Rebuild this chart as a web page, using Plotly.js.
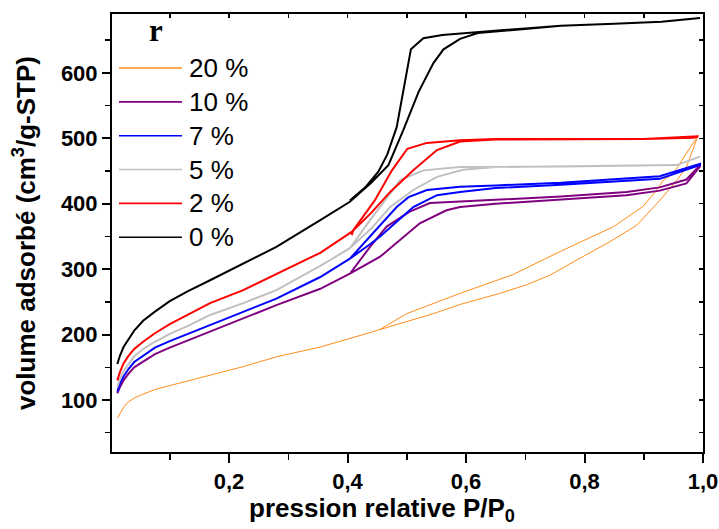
<!DOCTYPE html>
<html><head><meta charset="utf-8">
<script src="https://cdn.plot.ly/plotly-3.0.1.min.js"></script>
<style>html,body{margin:0;padding:0;background:#fff}#chart{width:719px;height:529px}</style>
</head><body><div id="chart"></div>
<script>
// Legend / series meta
const seriesNames = ['20 %', '10 %', '7 %', '5 %', '2 %', '0 %'];
const seriesColors = ['#ff8c1a', '#800080', '#0000ff', '#c0c0c0', '#ff0000', '#000000'];
const legendTitle = 'r';

// 20 % (adsorption then desorption)
const p20Ads = [0.0115,0.016,0.022,0.03,0.04,0.055,0.075,0.1,0.13,0.168,0.224,0.28,0.354,0.404,0.455,0.545,0.59,0.657,0.702,0.742,0.787,0.843,0.888,0.927,0.956,0.972,0.992];
const v20Ads = [72,80,89,97,103,109,116,122,129,138,151,166,181,194,208,232,246,263,276,291,314,342,367,405,436,456,505];
const p20Des = [0.992,0.95,0.933,0.922,0.899,0.849,0.759,0.68,0.59,0.5,0.455];
const v20Des = [505,446,436,421,396,365,327,292,263,232,208];

// 10 %
const p10Ads = [0.0115,0.016,0.022,0.03,0.04,0.055,0.075,0.1,0.13,0.168,0.224,0.28,0.354,0.404,0.455,0.522,0.567,0.59,0.65,0.76,0.871,0.927,0.972,0.995];
const v10Ads = [110,120,130,140,150,159,170,180,191,204,225,245,270,293,319,370,390,395,400,407,413,420,431,457];
const p10Des = [0.995,0.972,0.927,0.871,0.76,0.65,0.59,0.539,0.505,0.466,0.438,0.404];
const v10Des = [459,437,425,418,411,406,403,401,388,365,334,293];

// 7 %
const p7Ads = [0.0115,0.016,0.022,0.03,0.04,0.055,0.075,0.1,0.13,0.168,0.224,0.28,0.354,0.404,0.438,0.455,0.511,0.551,0.59,0.65,0.76,0.927,0.995];
const v7Ads = [113,125,136,147,158,168,180,190,201,214,235,255,288,316,338,350,395,413,418,424,429,438,459];
const p7Des = [0.995,0.927,0.76,0.65,0.59,0.534,0.503,0.483,0.438,0.404];
const v7Des = [461,442,432,428,426,421,410,395,350,316];

// 5 %
const p5Ads = [0.0115,0.016,0.022,0.03,0.04,0.055,0.075,0.1,0.13,0.168,0.224,0.28,0.354,0.404,0.44,0.472,0.511,0.551,0.595,0.65,0.76,0.956,0.995];
const v5Ads = [120,133,144,155,167,178,189,201,213,230,248,268,305,332,362,395,421,441,452,456,457,459,472];
const p5Des = [0.995,0.956,0.76,0.65,0.59,0.528,0.489,0.438,0.404];
const v5Des = [472,459,457,457,456,451,436,375,332];

// 2 %
const p2Ads = [0.0115,0.016,0.022,0.03,0.04,0.055,0.075,0.1,0.13,0.168,0.224,0.28,0.354,0.407,0.44,0.472,0.511,0.551,0.59,0.65,0.76,0.9,0.984,0.992];
const v2Ads = [130,143,156,167,178,189,202,216,230,248,268,293,325,357,386,418,451,482,495,498,498,499,501,503];
const p2Des = [0.992,0.9,0.76,0.65,0.59,0.534,0.501,0.475,0.446,0.41,0.407];
const v2Des = [503,499,499,499,497,493,484,451,405,360,352];

// 0 %
const p0Ads = [0.0115,0.016,0.022,0.03,0.04,0.055,0.075,0.1,0.13,0.168,0.224,0.28,0.354,0.404,0.44,0.469,0.494,0.52,0.545,0.562,0.59,0.62,0.7,0.76,0.85,0.93,0.995];
const v0Ads = [155,168,181,193,206,221,235,251,266,283,309,334,375,403,432,459,512,571,615,636,652,661,667,672,675,678,684];
const p0Des = [0.995,0.93,0.85,0.76,0.7,0.64,0.6,0.56,0.528,0.507,0.483,0.467,0.452,0.43,0.404];
const v0Des = [684,678,675,672,668,664,661,658,653,636,517,475,449,425,405];

const pAll = [p20Ads.concat(p20Des), p10Ads.concat(p10Des), p7Ads.concat(p7Des), p5Ads.concat(p5Des), p2Ads.concat(p2Des), p0Ads.concat(p0Des)];
const vAll = [v20Ads.concat(v20Des), v10Ads.concat(v10Des), v7Ads.concat(v7Des), v5Ads.concat(v5Des), v2Ads.concat(v2Des), v0Ads.concat(v0Des)];
const lineWidths = [1, 2, 2, 2, 2, 2];

const FONT = 'Arial, "Liberation Sans", sans-serif';
const X_RANGE = [0.0025, 1.0];
const Y_RANGE = [20.5, 690];

const traces = [];
for (let i = 0; i < seriesNames.length; i++) {
  traces.push({
    type: 'scatter', mode: 'lines', name: seriesNames[i],
    x: pAll[i], y: vAll[i],
    line: {color: seriesColors[i], width: lineWidths[i]},
    showlegend: false, hoverinfo: 'skip'
  });
}
traces.push({type:'scatter', mode:'lines', x:[null], y:[null], xaxis:'x2', yaxis:'y', showlegend:false, hoverinfo:'skip'});
traces.push({type:'scatter', mode:'lines', x:[null], y:[null], xaxis:'x', yaxis:'y2', showlegend:false, hoverinfo:'skip'});

// Custom legend (paper coordinates)
const plotL = 112, plotT = 14, plotW = 591, plotH = 438;
const px2x = px => (px - plotL) / plotW;
const py2y = py => (plotT + plotH - py) / plotH;
const shapes = [], annotations = [];
for (let i = 0; i < seriesNames.length; i++) {
  const yy = py2y(68 + 33.85 * i);
  shapes.push({type:'line', xref:'paper', yref:'paper', x0:px2x(119), x1:px2x(182), y0:yy, y1:yy,
    line:{color: seriesColors[i], width: 1.6}});
  annotations.push({xref:'paper', yref:'paper', x:px2x(187), y:yy, xanchor:'left', yanchor:'middle',
    text: seriesNames[i], showarrow:false, font:{family:FONT, size:26, color:'#000'}});
}
annotations.push({xref:'paper', yref:'paper', x:px2x(156), y:py2y(30), xanchor:'center', yanchor:'middle',
  text: legendTitle, showarrow:false, font:{family:'"Times New Roman", "Liberation Serif", serif', size:31, color:'#000', weight:'bold'}});
annotations.push({xref:'paper', yref:'paper', x:px2x(382), y:py2y(509), xanchor:'center', yanchor:'middle',
  text: 'pression relative P/P<sub>0</sub>', showarrow:false, font:{family:FONT, size:26, color:'#000', weight:'bold'}});

const tickFont = {family: FONT, size: 22, color: '#000', weight: 'bold'};
const layout = {
  width: 719, height: 529,
  margin: {l: plotL, r: 719 - plotL - plotW, t: plotT, b: 529 - plotT - plotH},
  paper_bgcolor: '#fff', plot_bgcolor: '#fff',
  separators: ',.',
  showlegend: false,
  font: {family: FONT, color: '#000'},
  xaxis: {
    range: X_RANGE, tick0: 0, dtick: 0.2, tickformat: '.1f',
    ticks: 'outside', ticklen: 9, tickwidth: 2, tickcolor: '#000',
    showline: true, linewidth: 2, linecolor: '#000', mirror: true,
    showgrid: false, zeroline: false, tickfont: tickFont,
    minor: {tick0: 0, dtick: 0.1, ticks: 'outside', ticklen: 6, tickwidth: 1.5, tickcolor: '#000', showgrid: false}
  },
  yaxis: {
    range: Y_RANGE, tick0: 0, dtick: 100,
    ticks: 'outside', ticklen: 8, tickwidth: 2, tickcolor: '#000',
    showline: true, linewidth: 2, linecolor: '#000', mirror: true,
    showgrid: false, zeroline: false, tickfont: tickFont,
    minor: {tick0: 0, dtick: 50, ticks: 'outside', ticklen: 5, tickwidth: 1.5, tickcolor: '#000', showgrid: false},
    title: {text: 'volume adsorbé (cm<sup>3</sup>/g-STP)', font: {family: FONT, size: 26, color: '#000', weight: 'bold'}, standoff: 18}
  },
  xaxis2: {
    overlaying: 'x', side: 'top', anchor: 'y', range: X_RANGE, tick0: 0, dtick: 0.1,
    ticks: 'inside', ticklen: 4, tickwidth: 1.5, tickcolor: '#000',
    showticklabels: false, showline: false, showgrid: false, zeroline: false
  },
  yaxis2: {
    overlaying: 'y', side: 'right', anchor: 'x', range: Y_RANGE, tick0: 0, dtick: 50,
    ticks: 'inside', ticklen: 4, tickwidth: 1.5, tickcolor: '#000',
    showticklabels: false, showline: false, showgrid: false, zeroline: false
  },
  shapes: shapes,
  annotations: annotations
};

Plotly.newPlot('chart', traces, layout, {staticPlot: true, displayModeBar: false});
</script>
</body></html>
